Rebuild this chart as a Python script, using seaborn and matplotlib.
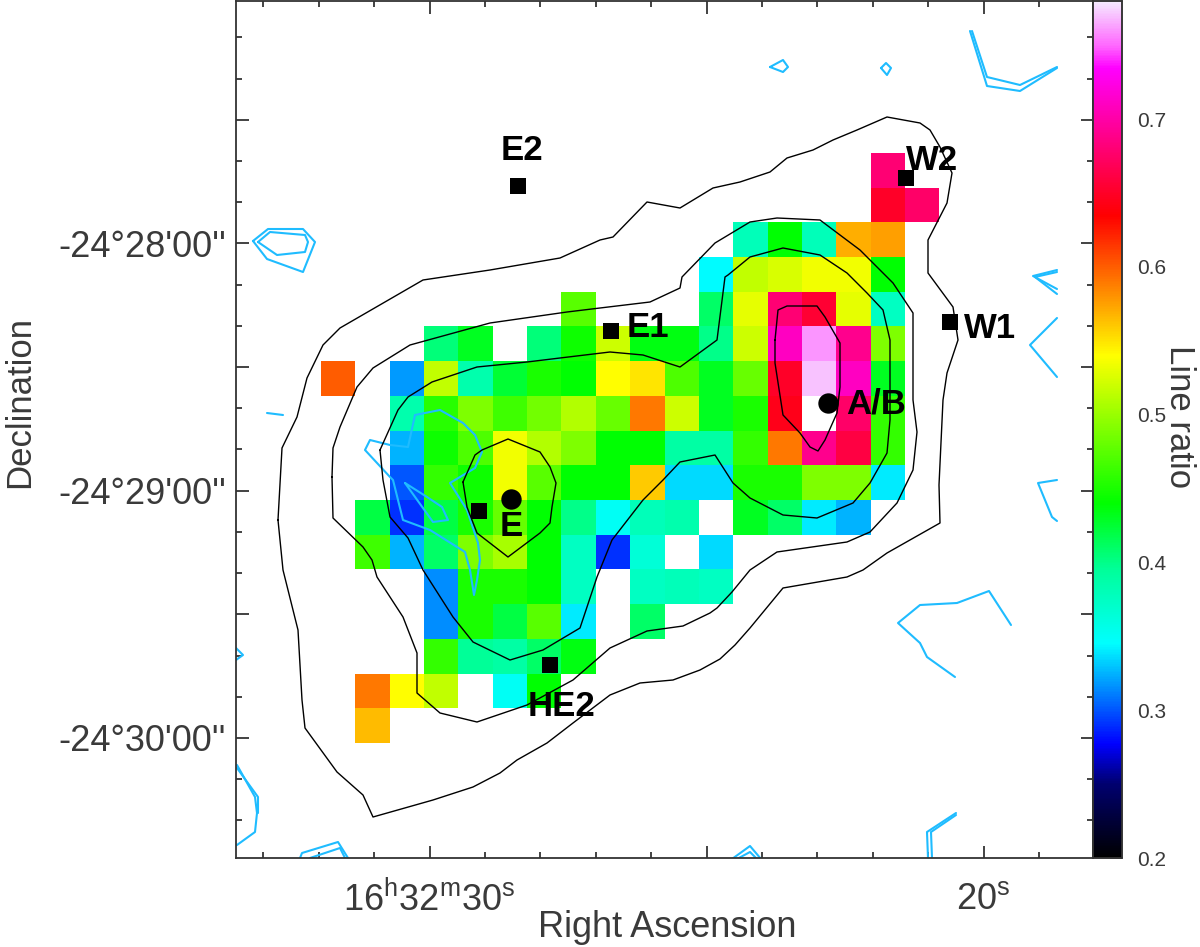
import numpy as np
import pandas as pd
import matplotlib
matplotlib.use('Agg')
import matplotlib.pyplot as plt
import seaborn as sns
from matplotlib.colors import LinearSegmentedColormap
from matplotlib.ticker import FixedLocator

# Line ratio per map pixel, one list per row from the top, columns from the left
n = np.nan
row00 = [n, n, n, n, n, n, n, n, n, n, n, n, n, n, n, n, .68, n]
row01 = [n, n, n, n, n, n, n, n, n, n, n, n, n, n, n, n, .65, .675]
row02 = [n, n, n, n, n, n, n, n, n, n, n, n, .38, .44, .38, .57, .575, n]
row03 = [n, n, n, n, n, n, n, n, n, n, n, .345, .515, .525, .535, .535, .44, n]
row04 = [n, n, n, n, n, n, n, .475, n, n, n, .41, .53, .68, .655, .53, .375, n]
row05 = [n, n, n, .405, .43, n, .405, .445, .52, .435, .435, .40, .52, .71, .76, .69, .49, n]
row06 = [.60, n, .318, .515, .385, .425, .45, .44, .54, .55, .47, .43, .48, .65, .77, .71, .43, n]
row07 = [n, n, .385, .455, .49, .465, .485, .51, .48, .59, .52, .43, .45, .645, .80, .675, .46, n]
row08 = [n, n, .325, .445, .47, .535, .51, .49, .44, .44, .39, .39, .46, .59, .69, .66, .46, n]
row09 = [n, n, .30, .46, .445, .535, .475, .44, .44, .56, .335, .335, .45, .45, .49, .49, .34, n]
row10 = [n, .42, .29, .42, .45, .48, .44, .40, .35, .38, .385, n, .43, .41, .34, .325, n, n]
row11 = [n, .465, .325, .41, .49, .505, .44, .375, .29, .365, n, .335, n, n, n, n, n, n]
row12 = [n, n, n, .315, .45, .45, .44, .375, n, .375, .38, .375, n, n, n, n, n, n]
row13 = [n, n, n, .315, .45, .42, .475, .34, n, .41, n, n, n, n, n, n, n, n]
row14 = [n, n, n, .46, .395, .39, .41, .435, n, n, n, n, n, n, n, n, n, n]
row15 = [n, .59, .54, .515, n, .35, .44, n, n, n, n, n, n, n, n, n, n, n]
row16 = [n, .565, n, n, n, n, n, n, n, n, n, n, n, n, n, n, n, n]
ratio_rows = [row00, row01, row02, row03, row04, row05, row06, row07, row08,
              row09, row10, row11, row12, row13, row14, row15, row16]

# Colour table of the map
cbar_values = [.20, .25, .277, .345, .395, .44, .54, .635, .735, .75, .78]
cbar_colors = ['#000000', '#000070', '#0000ff', '#00ffff', '#00ff99', '#00ff00',
               '#ffff00', '#ff0000', '#ff00ff', '#ff66ff', '#f5eaff']

# Black contours in figure pixels
outer_x = [278, 282, 297, 307, 323, 340, 423, 490, 560, 600, 613, 647, 680, 713, 740, 770, 787, 813, 833, 857,
           887, 920, 930, 940, 952, 947, 928, 928, 953, 958, 947, 943, 939, 940, 887, 863, 847, 783, 750, 735,
           720, 700, 673, 640, 610, 573, 547, 517, 500, 473, 433, 373, 363, 337, 305, 302, 298, 283, 278]
outer_y = [520, 448, 417, 378, 345, 328, 280, 270, 258, 240, 237, 202, 208, 188, 182, 172, 158, 150, 140, 130,
           117, 123, 130, 147, 173, 203, 240, 273, 307, 340, 373, 400, 485, 523, 553, 570, 577, 588, 628, 645,
           659, 670, 680, 683, 695, 723, 743, 760, 773, 787, 800, 817, 795, 772, 728, 700, 630, 570, 520]
second_x = [332, 333, 340, 357, 373, 410, 490, 567, 600, 650, 680, 682, 715, 750, 777, 820, 860, 893, 913, 913,
            917, 913, 897, 870, 847, 777, 750, 732, 717, 710, 683, 647, 610, 573, 527, 477, 440, 417, 417, 403,
            377, 372, 363, 333, 332]
second_y = [477, 448, 427, 387, 368, 345, 323, 312, 308, 302, 288, 277, 243, 222, 218, 220, 250, 283, 313, 400,
            432, 470, 503, 532, 542, 552, 570, 592, 608, 613, 626, 631, 648, 680, 705, 722, 713, 693, 653, 617,
            577, 560, 547, 518, 477]
third_x = [380, 398, 408, 432, 477, 527, 560, 610, 643, 680, 717, 725, 728, 750, 783, 820, 847, 867, 883, 890,
           890, 887, 870, 853, 817, 783, 750, 733, 715, 680, 663, 643, 612, 597, 580, 543, 510, 473, 453, 423,
           408, 390, 383, 380]
third_y = [450, 410, 397, 382, 367, 362, 358, 352, 355, 367, 340, 277, 275, 257, 248, 255, 273, 293, 310, 340,
           420, 453, 483, 503, 518, 515, 498, 483, 455, 462, 480, 500, 540, 577, 628, 650, 660, 642, 617, 570,
           538, 517, 480, 450]
core_e_x = [463, 475, 482, 508, 540, 550, 556, 552, 550, 540, 508, 477, 467, 463]
core_e_y = [482, 455, 450, 439, 452, 467, 483, 507, 523, 533, 557, 533, 507, 482]
core_ab_x = [775, 778, 787, 817, 825, 840, 840, 837, 825, 818, 810, 800, 783, 775, 775]
core_ab_y = [340, 310, 306, 306, 317, 343, 387, 413, 440, 451, 447, 433, 415, 363, 340]

# Light blue contours, same units
blue_lines = [
    ([415, 440, 463, 475, 482, 475, 450, 467, 478, 480, 477, 474, 470, 465, 430, 403, 393, 390, 365, 370, 390, 408, 415],
     [415, 410, 423, 435, 452, 468, 483, 510, 543, 560, 580, 595, 570, 552, 530, 520, 480, 477, 450, 440, 445, 447, 415]),
    ([405, 427, 442, 448, 433, 405], [483, 497, 507, 520, 522, 483]),
    ([253, 268, 303, 315, 303, 267, 253], [241, 229, 229, 242, 272, 259, 241]),
    ([258, 270, 305, 308, 305, 277, 258], [242, 232, 235, 242, 252, 255, 242]),
    ([267, 283], [413, 415]),
    ([770, 783, 788, 783, 770], [67, 60, 67, 72, 67]),
    ([881, 886, 891, 887, 881], [68, 63, 68, 75, 68]),
    ([972, 987, 1020, 1057], [31, 77, 85, 67]),
    ([970, 987, 1020, 1057], [31, 86, 91, 68]),
    ([1057, 1033, 1057], [270, 276, 289]),
    ([1057, 1035, 1057], [272, 277, 294]),
    ([1057, 1030, 1057], [318, 345, 377]),
    ([1057, 1038, 1052, 1057], [480, 483, 517, 521]),
    ([955, 927, 920, 898, 920, 957, 989, 1011], [677, 657, 643, 623, 605, 603, 591, 625]),
    ([956, 927, 928], [813, 832, 858]),
    ([956, 931, 932], [815, 832, 858]),
    ([732, 750, 761], [859, 846, 859]),
    ([737, 750, 757], [859, 852, 859]),
    ([237, 255, 257, 255, 237], [765, 797, 813, 832, 845]),
    ([237, 258, 258], [768, 797, 813]),
    ([300, 302, 338, 348], [858, 853, 842, 858]),
    ([310, 340, 345], [858, 848, 858]),
    ([236, 243, 236], [648, 655, 660]),
]

# Sources
square_x = [518, 611, 906, 950, 550, 479]
square_y = [186, 331, 178, 322, 665, 511]
circle_x = [511, 828]
circle_y = [499, 403]
label_names = ['E2', 'E1', 'W2', 'W1', 'HE2', 'E', 'A/B']
label_x = [522, 648, 932, 990, 561, 511, 876]
label_y = [150, 327, 161, 328, 706, 526, 404]

# Ticks on the sky
ra_major = [30, 25, 20]
ra_major_labels = ['16$^{\\mathrm{h}}$32$^{\\mathrm{m}}$30$^{\\mathrm{s}}$', '', '20$^{\\mathrm{s}}$']
ra_minor = [33, 32, 31, 29, 28, 27, 26, 24, 23, 22, 21, 19]
dec_major = [-30, 0, 30, 60, 90, 120]
dec_major_labels = ['', "-24\u00b028'00''", '', "-24\u00b029'00''", '', "-24\u00b030'00''"]
dec_minor = [-50, -40, -20, -10, 10, 20, 40, 50, 70, 80, 100, 110, 130, 140]
cbar_major = [.2, .3, .4, .5, .6, .7]
cbar_minor = [.22, .24, .26, .28, .32, .34, .36, .38, .42, .44, .46, .48,
              .52, .54, .56, .58, .62, .64, .66, .68, .72, .74, .76]

W, H = 1200, 947
CELL_W, CELL_H = 34.35, 34.7
MAP_X0, MAP_Y0 = 321, 153


def col(px):
    return (np.asarray(px, dtype=float) - MAP_X0) / CELL_W


def row(py):
    return (np.asarray(py, dtype=float) - MAP_Y0) / CELL_H


def ra_col(sec):
    return col(429.5 + (30 - np.asarray(sec, dtype=float)) * 55.4)


def dec_row(arcsec):
    return row(243.5 + np.asarray(arcsec, dtype=float) * 4.12)


sns.set_theme(style='white')
plt.rcParams['font.family'] = ['Liberation Sans', 'DejaVu Sans']
plt.rcParams['mathtext.fontset'] = 'custom'
plt.rcParams['mathtext.rm'] = 'Liberation Sans'
plt.rcParams['mathtext.default'] = 'regular'
text_color = '#3a3a3a'

fig = plt.figure(figsize=(W / 100, H / 100), dpi=100)
ax = fig.add_axes([236 / W, 1 - 858 / H, (1093 - 236) / W, 857 / H])
cax = fig.add_axes([1093 / W, 1 - 858 / H, 29 / W, 857 / H])

span = cbar_values[-1] - cbar_values[0]
cmap = LinearSegmentedColormap.from_list(
    'ratio', [((v - cbar_values[0]) / span, c) for v, c in zip(cbar_values, cbar_colors)], N=512)
cmap.set_over('white')

ratio = pd.DataFrame(ratio_rows)
sns.heatmap(ratio, ax=ax, cmap=cmap, vmin=.2, vmax=.78, cbar_ax=cax, xticklabels=False, yticklabels=False)
ax.collections[0].set_edgecolor('face')

for xs, ys in blue_lines:
    ax.plot(col(xs), row(ys), color='#1fbcff', lw=1.5)
for xs, ys in [(outer_x, outer_y), (second_x, second_y), (third_x, third_y),
               (core_e_x, core_e_y), (core_ab_x, core_ab_y)]:
    ax.plot(col(xs), row(ys), color='black', lw=1.0)

sns.scatterplot(x=col(square_x), y=row(square_y), ax=ax, marker='s', s=135, color='black', linewidth=0, zorder=5)
sns.scatterplot(x=col(circle_x), y=row(circle_y), ax=ax, marker='o', s=215, color='black', linewidth=0, zorder=5)
for name, x, y in zip(label_names, label_x, label_y):
    ax.text(col(x), row(y), name, ha='center', va='center', fontsize=25, fontweight='bold',
            color='black', zorder=6)

ax.set_xlim(col(236), col(1093))
ax.set_ylim(row(858), row(1))

ax.set_xticks(ra_col(ra_major))
ax.set_xticklabels(ra_major_labels)
ax.xaxis.set_minor_locator(FixedLocator(ra_col(ra_minor)))
ax.set_yticks(dec_row(dec_major))
ax.set_yticklabels(dec_major_labels)
ax.yaxis.set_minor_locator(FixedLocator(dec_row(dec_minor)))
ax.tick_params(which='major', direction='in', length=9, width=1.2, top=True, right=True, bottom=True, left=True,
               labelsize=26, colors='#222222', labelcolor=text_color)
ax.tick_params(axis='x', which='major', pad=17)
ax.tick_params(axis='y', which='major', pad=7)
ax.tick_params(which='minor', direction='in', length=4.5, width=1.2, top=True, right=True, bottom=True, left=True,
               colors='#222222')
ax.set_xlabel('')
ax.set_ylabel('')
for s in ax.spines.values():
    s.set_visible(True)
    s.set_linewidth(1.3)
    s.set_color('#333333')

cax.yaxis.set_major_locator(FixedLocator(cbar_major))
cax.yaxis.set_minor_locator(FixedLocator(cbar_minor))
cax.set_yticklabels(['0.2', '0.3', '0.4', '0.5', '0.6', '0.7'])
cax.tick_params(which='major', direction='in', length=9, width=1.1, left=False, right=True,
                labelsize=15, labelcolor=text_color, pad=11, color='#222222')
cax.tick_params(which='minor', direction='in', length=4.5, width=1.1, left=False, right=True, color='#222222')
for s in cax.spines.values():
    s.set_visible(True)
    s.set_linewidth(1.1)
    s.set_color('#333333')

fig.text(667 / W, 1 - 927 / H, 'Right Ascension', ha='center', va='center', fontsize=26, color=text_color)
fig.text(20 / W, 1 - 402 / H, 'Declination', ha='center', va='center', rotation=90, fontsize=25, color=text_color)
fig.text(1180 / W, 1 - 417 / H, 'Line ratio', ha='center', va='center', rotation=270, fontsize=25, color=text_color)

fig.savefig('out.png', dpi=100, facecolor='white')
